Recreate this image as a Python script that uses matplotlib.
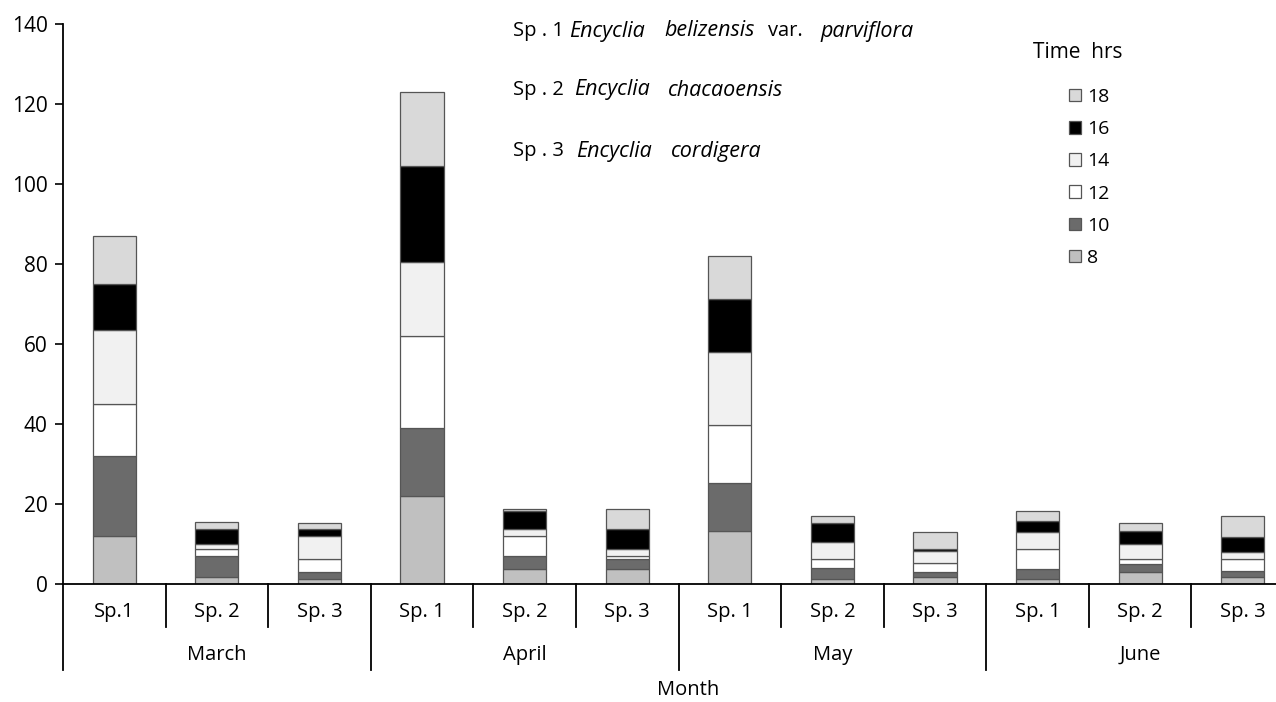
import matplotlib.pyplot as plt
import numpy as np

plt.rcParams['font.family'] = ['Open Sans', 'DejaVu Sans']

months = ["March", "April", "May", "June"]
species = ["Sp.1", "Sp. 2", "Sp. 3", "Sp. 1", "Sp. 2", "Sp. 3",
           "Sp. 1", "Sp. 2", "Sp. 3", "Sp. 1", "Sp. 2", "Sp. 3"]

hours = ["8", "10", "12", "14", "16", "18"]
hrs_8 = [12, 1.8, 1.2, 22, 3.7, 3.7, 13.3, 1.2, 1.8, 1.2, 3, 1.7]
hrs_10 = [20, 5.2, 1.9, 17, 3.3, 2.5, 12, 2.7, 1.3, 2.55, 2, 1.55]
hrs_12 = [13, 1.75, 3.1, 23, 5, 0.8, 14.5, 2.3, 2.1, 5, 1.25, 3]
hrs_14 = [18.5, 1.25, 5.8, 18.5, 1.75, 1.7, 18.2, 4.4, 3.05, 4.35, 3.75, 1.85]
hrs_16 = [11.5, 3.75, 1.75, 24, 4.4, 5.1, 13.3, 4.6, 0.45, 2.65, 3.25, 3.7]
hrs_18 = [12, 1.85, 1.45, 18.5, 0.65, 5.05, 10.7, 1.9, 4.4, 2.55, 1.95, 5.2]

colors = ["#c0c0c0", "#6b6b6b", "#ffffff", "#f1f1f1", "#000000", "#d9d9d9"]

# species name lines: (left x in px, word, italic?)
name_lines = [
    [(513, "Sp . 1", False), (569, "Encyclia", True), (664, "belizensis", True),
     (768, "var.", False), (820, "parviflora", True)],
    [(513, "Sp . 2", False), (574, "Encyclia", True), (668, "chacaoensis", True)],
    [(513, "Sp . 3", False), (576, "Encyclia", True), (671, "cordigera", True)],
]
name_y = [31, 90, 151]

W, H = 1276, 702
fig = plt.figure(figsize=(12.76, 7.02), dpi=100)
ax = fig.add_axes([63/W, 118/H, 1231/W, 560/H])

x = np.arange(len(species)) + 0.5
bottom = np.zeros(len(species))
handles = []
for vals, c, h in zip([hrs_8, hrs_10, hrs_12, hrs_14, hrs_16, hrs_18], colors, hours):
    b = ax.bar(x, vals, 0.42, bottom=bottom, color=c, edgecolor="#555555",
               linewidth=0.9, label=h)
    handles.append(b)
    bottom += np.array(vals)

ax.set_xlim(0, 12)
ax.set_ylim(0, 140)
ax.set_yticks(range(0, 141, 20))
ax.tick_params(axis='y', labelsize=15, length=6, width=1.2, pad=5)
ax.set_xticks([])
for s in ['top', 'right']:
    ax.spines[s].set_visible(False)
ax.spines['left'].set_linewidth(1.3)
ax.spines['bottom'].set_linewidth(1.3)

# category separators below the axis
trans = ax.get_xaxis_transform()
for i in range(13):
    low = -0.154 if i % 3 == 0 else -0.077
    ax.plot([i, i], [0, low], color='black', lw=1.3, transform=trans, clip_on=False)

for xi, s in zip(x, species):
    ax.text(xi, -0.05, s, transform=trans, ha='center', va='center', fontsize=14.5)
for i, m in enumerate(months):
    ax.text(3 * i + 1.5, -0.127, m, transform=trans, ha='center', va='center', fontsize=14.5)
fig.text(688/W, 1 - 690/H, "Month", ha='center', va='center', fontsize=14.5)

for line, yy in zip(name_lines, name_y):
    for xx, word, it in line:
        fig.text(xx/W, 1 - yy/H, word, ha='left', va='center',
                 fontsize=15.5 if it else 14.5,
                 style='italic' if it else 'normal')

fig.text(1078/W, 1 - 52/H, "Time  hrs", ha='center', va='center', fontsize=15)
leg = fig.legend(handles[::-1], hours[::-1], loc='upper left',
                 bbox_to_anchor=(1069/W, 1 - 88/H), frameon=False,
                 fontsize=14, handlelength=0.62, handleheight=0.62,
                 handletextpad=0.3, labelspacing=0.73, borderaxespad=0,
                 borderpad=0)

fig.savefig("out.png", dpi=100)
